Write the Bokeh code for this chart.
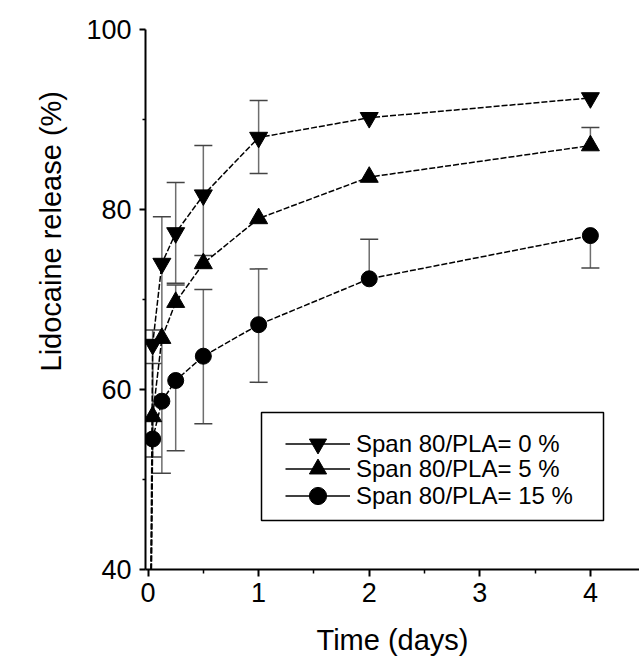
from bokeh.plotting import figure
from bokeh.models import (Range1d, FixedTicker, Whisker, TeeHead, ColumnDataSource,
                          Legend, LegendItem, Title, BoxAnnotation)
from bokeh.embed import file_html
from bokeh.resources import INLINE

# ---- data ----
time_days = [0, 1 / 24, 0.125, 0.25, 0.5, 1, 2, 4]

series_labels = ["Span 80/PLA= 0 %", "Span 80/PLA= 5 %", "Span 80/PLA= 15 %"]
series_markers = ["inverted_triangle", "triangle", "circle"]

release_0 = [0, 65.0, 74.0, 77.4, 81.6, 88.0, 90.2, 92.4]
release_5 = [0, 57.0, 65.7, 69.7, 74.0, 79.0, 83.6, 87.1]
release_15 = [0, 54.5, 58.7, 61.0, 63.7, 67.2, 72.3, 77.1]

# visible error bars (upper / lower extents, 0 = not visible)
err_up_0 = [0, 0, 0, 5.6, 5.5, 4.1, 0, 0]
err_dn_0 = [0, 0, 0, 5.6, 6.7, 4.0, 0, 0]
err_up_5 = [0, 9.6, 13.5, 1.9, 0, 0, 0, 2.0]
err_dn_5 = [0, 4.5, 15.0, 0, 0, 0, 0, 0]
err_up_15 = [0, 8.4, 0, 0, 7.4, 6.2, 4.4, 0]
err_dn_15 = [0, 0, 0, 7.8, 7.5, 6.4, 0, 3.6]

x_ticks = [0, 1, 2, 3, 4]
x_minor_ticks = [0.5, 1.5, 2.5, 3.5]
y_ticks = [40, 60, 80, 100]
y_minor_ticks = [50, 70, 90]

x_title = "Time (days)"
y_title = "Lidocaine release (%)"

FONT = "Liberation Sans"

p = figure(width=639, height=658, output_backend="svg", toolbar_location=None,
           x_range=Range1d(-0.023, 4.444), y_range=Range1d(40, 100))
p.min_border_left = 145
p.min_border_right = 0
p.min_border_top = 29
p.min_border_bottom = 87
p.outline_line_color = None
p.xgrid.visible = False
p.ygrid.visible = False
p.background_fill_color = "white"

for ax in (p.xaxis[0], p.yaxis[0]):
    ax.axis_line_width = 2
    ax.axis_line_color = "black"
    ax.major_tick_in = 0
    ax.minor_tick_in = 0
    ax.major_tick_line_width = 2
    ax.minor_tick_line_width = 1.5
    ax.major_label_text_font = FONT
    ax.major_label_text_font_size = "27px"
    ax.major_label_text_color = "black"
    ax.axis_label_text_font = FONT
    ax.axis_label_text_font_size = "29px"
    ax.axis_label_text_font_style = "normal"
    ax.axis_label_text_color = "black"

p.xaxis.ticker = FixedTicker(ticks=x_ticks, minor_ticks=x_minor_ticks)
p.yaxis.ticker = FixedTicker(ticks=y_ticks, minor_ticks=y_minor_ticks)
p.xaxis.major_tick_out = 7
p.xaxis.minor_tick_out = 4
p.yaxis.major_tick_out = 6
p.yaxis.minor_tick_out = 3
p.xaxis.major_label_standoff = 6
p.yaxis.major_label_standoff = 8
p.xaxis.axis_label = x_title
p.xaxis.axis_label_standoff = 19

series = [
    (release_0, err_up_0, err_dn_0),
    (release_5, err_up_5, err_dn_5),
    (release_15, err_up_15, err_dn_15),
]

ERR_COLOR = "#6e6e6e"
legend_rows = [104, 79, 52]   # legend row offsets (px above the frame bottom)
for (vals, eu, ed), label, marker, row in zip(series, series_labels, series_markers, legend_rows):
    # error bars
    ux, ub, ue, lx, lb, le = [], [], [], [], [], []
    for t, v, u, d in zip(time_days, vals, eu, ed):
        if u > 0:
            ux.append(t); ub.append(v); ue.append(v + u)
        if d > 0:
            lx.append(t); lb.append(v - d); le.append(v)
    if ux:
        src = ColumnDataSource(dict(x=ux, lower=ub, upper=ue))
        p.add_layout(Whisker(source=src, base="x", lower="lower", upper="upper",
                             line_color=ERR_COLOR, line_width=1.5,
                             lower_head=None,
                             upper_head=TeeHead(size=18, line_color="#444444", line_width=1.5),
                             level="underlay"))
    if lx:
        src = ColumnDataSource(dict(x=lx, lower=lb, upper=le))
        p.add_layout(Whisker(source=src, base="x", lower="lower", upper="upper",
                             line_color=ERR_COLOR, line_width=1.5,
                             upper_head=None,
                             lower_head=TeeHead(size=18, line_color="#444444", line_width=1.5),
                             level="underlay"))
    p.line(time_days, vals, line_color="black", line_width=1.5, line_dash="6 2")
    sz = 16 if marker == "circle" else 18
    mr = p.scatter(time_days, vals, marker=marker, size=sz,
                   fill_color="black", line_color="black")
    # solid line sample for the legend key (a single point draws nothing in the plot)
    lk = p.line(x=time_days[-1:], y=vals[-1:], line_color="black", line_width=1.5)
    leg = Legend(items=[LegendItem(label=label, renderers=[lk, mr])],
                 location=(140, row), orientation="vertical",
                 glyph_width=65, glyph_height=43, spacing=0, padding=0, margin=0,
                 label_standoff=6, label_text_font=FONT, label_text_font_size="24px",
                 label_text_color="black", label_text_baseline="middle",
                 border_line_alpha=0, background_fill_alpha=0)
    p.add_layout(leg)

# legend frame
p.add_layout(BoxAnnotation(left=116, right=458, bottom=49, top=157,
                           left_units="screen", right_units="screen",
                           bottom_units="screen", top_units="screen",
                           fill_alpha=0, line_color="black", line_alpha=1.0,
                           line_width=1.5, level="overlay"))

# y-axis title (placed as a side title so it can sit above centre, as in the original)
p.add_layout(Title(text=y_title, align="left", offset=198, standoff=30,
                   vertical_align="top",
                   text_font=FONT, text_font_size="29px", text_font_style="normal",
                   text_color="black"), "left")

open("out.html", "w").write(file_html(p, INLINE))
